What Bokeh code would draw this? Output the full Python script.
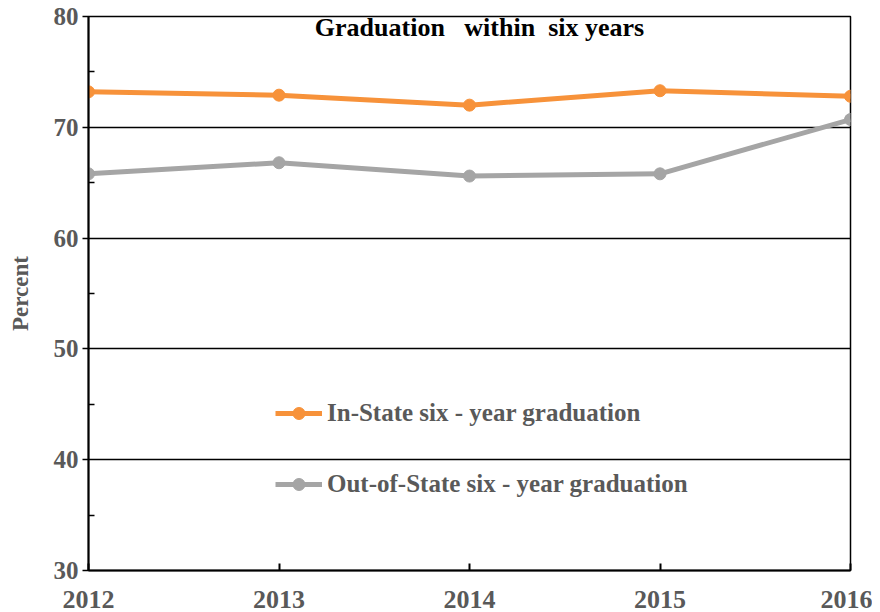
from bokeh.plotting import figure
from bokeh.models import Range1d, FixedTicker, Label, Legend, LegendItem
from bokeh.embed import file_html
from bokeh.resources import INLINE

years = [2012, 2013, 2014, 2015, 2016]
in_state = [73.2, 72.9, 72.0, 73.3, 72.8]
out_state = [65.8, 66.8, 65.6, 65.8, 70.7]
y_ticks = [30, 40, 50, 60, 70, 80]
y_minor = [35, 45, 55, 65, 75]
title_text = "Graduation\u00a0\u00a0\u00a0within\u00a0\u00a0six years"
label_in = "In-State six - year graduation"
label_out = "Out-of-State six - year graduation"

ORANGE = "#F7923A"
GRAY = "#A5A5A5"
TXT = "#595959"
FONT = "Liberation Serif"

p = figure(width=872, height=612, output_backend="svg", toolbar_location=None,
           x_range=Range1d(2012, 2016), y_range=Range1d(30, 80),
           min_border_left=88, min_border_right=22, min_border_top=16, min_border_bottom=42)

p.outline_line_color = "black"
p.outline_line_width = 1.5
p.background_fill_color = "white"

p.xgrid.grid_line_color = None
p.ygrid.grid_line_color = "black"
p.ygrid.grid_line_width = 1.5
p.ygrid.grid_line_alpha = 1.0

p.xaxis.ticker = FixedTicker(ticks=years)
p.xaxis.major_tick_in = 7
p.xaxis.major_tick_out = 0
p.xaxis.minor_tick_line_color = None
p.xaxis.axis_line_width = 2
p.xaxis.major_tick_line_width = 2
p.xaxis.major_label_text_font = FONT
p.xaxis.major_label_text_font_style = "bold"
p.xaxis.major_label_text_font_size = "26px"
p.xaxis.major_label_text_color = TXT
p.xaxis.major_label_standoff = 20

p.yaxis.ticker = FixedTicker(ticks=y_ticks, minor_ticks=y_minor)
p.yaxis.major_tick_in = 0
p.yaxis.major_tick_out = 6
p.yaxis.minor_tick_in = 6
p.yaxis.minor_tick_out = 0
p.yaxis.axis_line_width = 2
p.yaxis.major_tick_line_width = 1.5
p.yaxis.minor_tick_line_width = 1.5
p.yaxis.major_label_text_font = FONT
p.yaxis.major_label_text_font_style = "bold"
p.yaxis.major_label_text_font_size = "25px"
p.yaxis.major_label_text_color = TXT
p.yaxis.major_label_standoff = 4
p.yaxis.axis_label = "Percent"
p.yaxis.axis_label_text_font = FONT
p.yaxis.axis_label_text_font_style = "bold"
p.yaxis.axis_label_text_font_size = "23px"
p.yaxis.axis_label_text_color = TXT
p.yaxis.axis_label_standoff = 18

r_in = p.line(years, in_state, line_color=ORANGE, line_width=5)
c_in = p.scatter(years, in_state, size=12, fill_color=ORANGE, line_color=ORANGE)
r_out = p.line(years, out_state, line_color=GRAY, line_width=5)
c_out = p.scatter(years, out_state, size=12, fill_color=GRAY, line_color=GRAY)

legend = Legend(items=[LegendItem(label=label_in, renderers=[r_in, c_in]),
                       LegendItem(label=label_out, renderers=[r_out, c_out])],
                location=(187, 71), orientation="vertical",
                border_line_color=None, background_fill_alpha=0,
                padding=0, margin=0, spacing=41, glyph_width=47, glyph_height=30,
                label_text_font=FONT, label_text_font_style="bold",
                label_text_font_size="25px", label_text_color=TXT, label_standoff=5,
                label_height=30)
p.add_layout(legend)

title = Label(x=391, y=543, x_units="screen", y_units="screen", text=title_text,
              text_align="center", text_baseline="middle", text_font=FONT,
              text_font_style="bold", text_font_size="26px", text_color="black")
p.add_layout(title)

open("out.html", "w").write(file_html(p, INLINE))
